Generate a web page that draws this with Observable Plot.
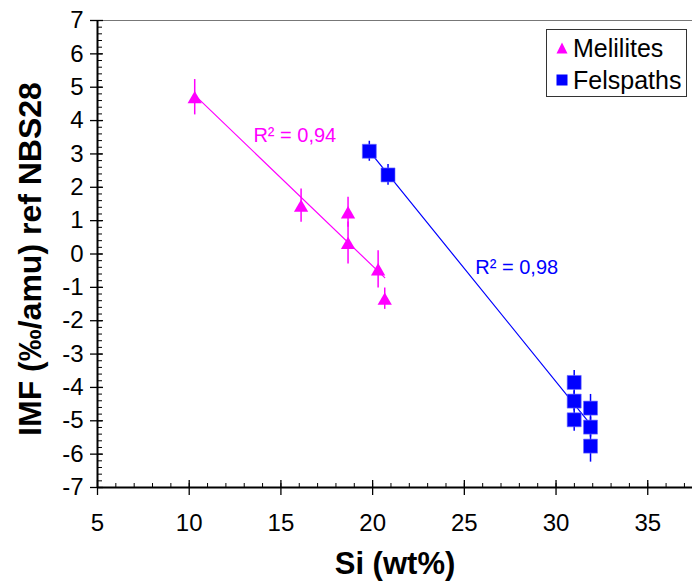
<!DOCTYPE html>
<html>
<head>
<meta charset="utf-8">
<script src="https://cdn.jsdelivr.net/npm/d3@7"></script>
<script src="https://cdn.jsdelivr.net/npm/@observablehq/plot@0.6"></script>
<style>
  html, body { margin: 0; padding: 0; background: #fff; }
  #wrap { position: relative; width: 692px; height: 582px; overflow: hidden; font-family: "Liberation Sans", Arial, sans-serif; }
  #legend { position: absolute; left: 546px; top: 29px; width: 141px; height: 68px; border: 1px solid #333; background: #fff; box-sizing: border-box; }
  .lg { position: absolute; left: 0; height: 30px; display: flex; align-items: center; font-size: 25px; color: #000; }
  .lg svg { margin-left: 9px; margin-right: 5px; }
</style>
</head>
<body>
<div id="wrap"></div>
<script>
// ---- data ----
const melSi  = [10.3, 16.1, 18.66, 18.66, 20.3, 20.66];
const melIMF = [4.7, 1.45, 1.25, 0.33, -0.46, -1.34];
const melErr = [0.53, 0.5, 0.45, 0.63, 0.56, 0.32];

const felSi  = [19.82, 20.84, 30.99, 30.99, 30.99, 31.88, 31.88, 31.88];
const felIMF = [3.08, 2.37, -3.85, -4.41, -4.97, -4.62, -5.19, -5.76];
const felErr = [0.3, 0.31, 0.36, 0.3, 0.34, 0.41, 0.3, 0.48];

const seriesNames = ["Melilites", "Felspaths"];
const seriesColors = ["#ff00ff", "#0000ff"];

const xTicks = [5, 10, 15, 20, 25, 30, 35, 40];
const yTicks = [7, 6, 5, 4, 3, 2, 1, 0, -1, -2, -3, -4, -5, -6, -7];
const xTitle = "Si (wt%)";
const yTitle = "IMF (‰/amu) ref NBS28";

const r2Labels = [
  {text: "R² = 0,94", x: 13.5, y: 3.55, series: 0},
  {text: "R² = 0,98", x: 25.6, y: -0.4, series: 1}
];

// ---- build tables ----
const mel = melSi.map((x, i) => ({x, y: melIMF[i], e: melErr[i]}));
const fel = felSi.map((x, i) => ({x, y: felIMF[i], e: felErr[i]}));
const xMinor = d3.range(5, 38, 1);
const yMinor = d3.range(-7, 7.001, 0.2).map(v => +v.toFixed(1));

const W = 692, H = 582, mL = 97, mR = 0, mT = 20, mB = 95;
const pw = W - mL - mR, ph = H - mT - mB;
const font = "'Liberation Sans', Arial, sans-serif";

const chart = Plot.plot({
  width: W, height: H,
  marginLeft: mL, marginRight: mR, marginTop: mT, marginBottom: mB,
  x: {domain: [5, 37.44], axis: null},
  y: {domain: [-7, 7], axis: null},
  style: {fontFamily: font, background: "#fff", overflow: "visible"},
  marks: [
    // top border of plot area
    Plot.ruleY([7], {stroke: "#777", strokeWidth: 1}),
    // minor ticks
    Plot.tickX(xMinor, {x: d => d, insetTop: ph - 4, stroke: "#000", strokeWidth: 1}),
    Plot.tickY(yMinor, {y: d => d, insetRight: pw - 5, stroke: "#000", strokeWidth: 1}),
    // major ticks crossing axes
    Plot.tickX(xTicks, {x: d => d, insetTop: ph - 7, insetBottom: -8, stroke: "#000", strokeWidth: 1.3}),
    Plot.tickY(yTicks, {y: d => d, insetRight: pw - 6, insetLeft: -7, stroke: "#000", strokeWidth: 1.3}),
    // axis lines
    Plot.ruleY([-7], {stroke: "#000", strokeWidth: 2}),
    Plot.ruleX([5], {stroke: "#000", strokeWidth: 2}),
    // tick labels
    Plot.text(xTicks.filter(d => d <= 35), {x: d => d, text: d => String(d), frameAnchor: "bottom", dy: 36, fontSize: 24, fill: "#000", lineAnchor: "middle"}),
    Plot.text(yTicks, {y: d => d, text: d => String(d), frameAnchor: "left", dx: -14, textAnchor: "end", fontSize: 24, fill: "#000", lineAnchor: "middle"}),
    // axis titles
    Plot.text([xTitle], {text: d => d, frameAnchor: "bottom", dy: 77, fontSize: 31, fontWeight: "bold", fill: "#000", lineAnchor: "middle", textAnchor: "middle"}),
    Plot.text([yTitle], {text: d => d, frameAnchor: "left", dx: -67, dy: 5, rotate: -90, fontSize: 32, fontWeight: "bold", fill: "#000", lineAnchor: "middle", textAnchor: "middle"}),
    // regression lines
    Plot.linearRegressionY(mel, {x: "x", y: "y", stroke: seriesColors[0], strokeWidth: 1.2, ci: 0}),
    Plot.linearRegressionY(fel, {x: "x", y: "y", stroke: seriesColors[1], strokeWidth: 1.2, ci: 0}),
    // error bars
    Plot.ruleX(mel, {x: "x", y1: d => d.y - d.e, y2: d => d.y + d.e, stroke: seriesColors[0], strokeWidth: 1.5}),
    Plot.ruleX(fel, {x: "x", y1: d => d.y - d.e, y2: d => d.y + d.e, stroke: seriesColors[1], strokeWidth: 1.5}),
    // markers
    Plot.dot(mel, {x: "x", y: "y", symbol: "triangle", r: 5.3, dy: 2, fill: seriesColors[0], stroke: "none"}),
    Plot.dot(fel, {x: "x", y: "y", symbol: "square", r: 7.9, fill: seriesColors[1], stroke: "#6f6fff", strokeWidth: 0.6}),
    // R² annotations
    Plot.text(r2Labels, {x: "x", y: "y", text: "text", fill: d => seriesColors[d.series], textAnchor: "start", fontSize: 20, lineAnchor: "middle"})
  ]
});

const wrap = document.getElementById("wrap");
wrap.appendChild(chart);

// legend
const legend = document.createElement("div");
legend.id = "legend";
const shapes = [
  `<svg width="12" height="12"><path d="M6,0.5L11.5,11.5L0.5,11.5Z" fill="${seriesColors[0]}"/></svg>`,
  `<svg width="12" height="12"><rect x="0.5" y="0.5" width="11" height="11" fill="${seriesColors[1]}"/></svg>`
];
seriesNames.forEach((name, i) => {
  const row = document.createElement("div");
  row.className = "lg";
  row.style.top = (3 + i * 32) + "px";
  row.innerHTML = shapes[i] + `<span>${name}</span>`;
  legend.appendChild(row);
});
wrap.appendChild(legend);
</script>
</body>
</html>
